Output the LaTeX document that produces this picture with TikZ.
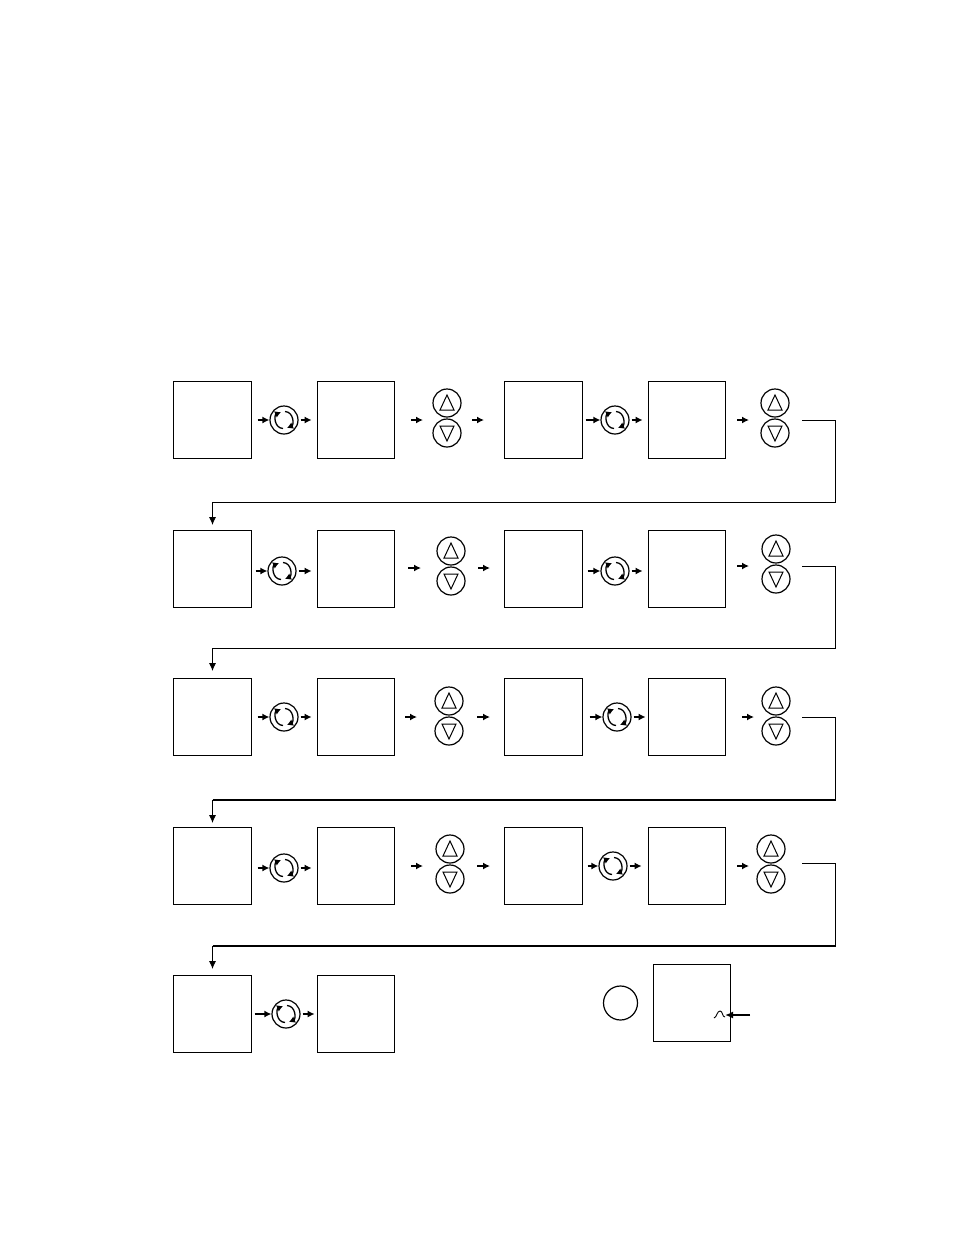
\documentclass[tikz,border=0pt]{standalone}
\usetikzlibrary{arrows.meta}
\tikzset{
  panel/.style={draw, line width=1pt, minimum size=77.5pt, inner sep=0pt},
  knob/.style={draw, circle, line width=1.2pt, minimum size=28pt, inner sep=0pt,
    path picture={
      \draw[line width=1.3pt, -{Latex[length=6pt,width=7pt]}] ([shift={(-1,8.5)}]path picture bounding box.center) .. controls ([shift={(-10,8)}]path picture bounding box.center) and ([shift={(-10,-5)}]path picture bounding box.center) .. ([shift={(-3,-8)}]path picture bounding box.center);
      \draw[line width=1.3pt, -{Latex[length=6pt,width=7pt]}] ([shift={(1,-8.5)}]path picture bounding box.center) .. controls ([shift={(10,-8)}]path picture bounding box.center) and ([shift={(10,5)}]path picture bounding box.center) .. ([shift={(3,8)}]path picture bounding box.center);
    }},
  upkey/.style={draw, circle, line width=1.2pt, minimum size=28pt, inner sep=0pt,
    path picture={
      \draw[line width=1pt] ([shift={(0,-8)}]path picture bounding box.center) -- ([shift={(7,7)}]path picture bounding box.center) -- ([shift={(-7,7)}]path picture bounding box.center) -- cycle;
    }},
  downkey/.style={draw, circle, line width=1.2pt, minimum size=28pt, inner sep=0pt,
    path picture={
      \draw[line width=1pt] ([shift={(0,8)}]path picture bounding box.center) -- ([shift={(7,-7)}]path picture bounding box.center) -- ([shift={(-7,-7)}]path picture bounding box.center) -- cycle;
    }},
  arr/.style={line width=1.4pt, -{Latex[length=7pt,width=7pt]}},
  wire/.style={line width=0.9pt, -{Latex[length=8pt,width=7pt]}},
  thickwire/.style={line width=1.7pt}
}
\begin{document}
\begin{tikzpicture}[x=1pt, y=-1pt]
\useasboundingbox (0,0) rectangle (954,1235);

\node[panel] (n11) at (212.3, 420) {};
\node[panel] (n12) at (355.9, 420) {};
\node[panel] (n13) at (543.3, 420) {};
\node[panel] (n14) at (686.9, 420) {};

\node[panel] (n21) at (212.3, 569) {};
\node[panel] (n22) at (355.9, 569) {};
\node[panel] (n23) at (543.3, 569) {};
\node[panel] (n24) at (686.9, 569) {};

\node[panel] (n31) at (212.3, 717) {};
\node[panel] (n32) at (355.9, 717) {};
\node[panel] (n33) at (543.3, 717) {};
\node[panel] (n34) at (686.9, 717) {};

\node[panel] (n41) at (212.3, 866) {};
\node[panel] (n42) at (355.9, 866) {};
\node[panel] (n43) at (543.3, 866) {};
\node[panel] (n44) at (686.9, 866) {};

\node[panel] (n51) at (212.3, 1014) {};
\node[panel] (n52) at (355.9, 1014) {};
\node[panel] (n53) at (692, 1003) {};

\node[knob] (k11) at (284, 420) {};
\node[knob] (k12) at (615, 420) {};
\node[knob] (k21) at (282, 571) {};
\node[knob] (k22) at (615, 571) {};
\node[knob] (k31) at (284, 717) {};
\node[knob] (k32) at (617, 717) {};
\node[knob] (k41) at (284, 868) {};
\node[knob] (k42) at (613, 866) {};
\node[knob] (k51) at (286, 1014) {};

\node[upkey] (u11) at (447, 403) {};
\node[downkey] (d11) at (447, 433) {};
\node[upkey] (u12) at (775, 403) {};
\node[downkey] (d12) at (775, 433) {};
\node[upkey] (u21) at (451, 551) {};
\node[downkey] (d21) at (451, 581) {};
\node[upkey] (u22) at (776, 549) {};
\node[downkey] (d22) at (776, 579) {};
\node[upkey] (u31) at (449, 701) {};
\node[downkey] (d31) at (449, 731) {};
\node[upkey] (u32) at (776, 701) {};
\node[downkey] (d32) at (776, 731) {};
\node[upkey] (u41) at (450, 849) {};
\node[downkey] (d41) at (450, 879) {};
\node[upkey] (u42) at (771, 849) {};
\node[downkey] (d42) at (771, 879) {};

\node[draw, circle, line width=1.2pt, minimum size=34pt, inner sep=0pt] (c1) at (620.5, 1003) {};

% free ends of the short arrows
\coordinate (a11) at (411, 420);
\coordinate (b11) at (423, 420);
\coordinate (a12) at (472, 420);
\coordinate (b12) at (484, 420);
\coordinate (a13) at (737, 420);
\coordinate (b13) at (749, 420);
\coordinate (a21) at (408, 568);
\coordinate (b21) at (421, 568);
\coordinate (a22) at (478, 568);
\coordinate (b22) at (490, 568);
\coordinate (a23) at (737, 566);
\coordinate (b23) at (749, 566);
\coordinate (a31) at (405, 717);
\coordinate (b31) at (417, 717);
\coordinate (a32) at (477, 717);
\coordinate (b32) at (490, 717);
\coordinate (a33) at (742, 717);
\coordinate (b33) at (754, 717);
\coordinate (a41) at (411, 866);
\coordinate (b41) at (423, 866);
\coordinate (a42) at (477, 866);
\coordinate (b42) at (490, 866);
\coordinate (a43) at (737, 866);
\coordinate (b43) at (749, 866);

\draw[arr, shorten <=6pt] (n11) -- (k11);
\draw[arr, shorten <=2pt, shorten >=5pt] (k11) -- (n12);
\draw[arr] (a11) -- (b11);
\draw[arr] (a12) -- (b12);
\draw[arr, shorten <=3pt] (n13) -- (k12);
\draw[arr, shorten <=2pt, shorten >=5pt] (k12) -- (n14);
\draw[arr] (a13) -- (b13);

\draw[arr, shorten <=4pt] (n21.east |- k21) -- (k21);
\draw[arr, shorten <=2pt, shorten >=5pt] (k21) -- (n22.west |- k21);
\draw[arr] (a21) -- (b21);
\draw[arr] (a22) -- (b22);
\draw[arr, shorten <=5pt] (n23.east |- k22) -- (k22);
\draw[arr, shorten <=2pt, shorten >=5pt] (k22) -- (n24.west |- k22);
\draw[arr] (a23) -- (b23);

\draw[arr, shorten <=6pt] (n31) -- (k31);
\draw[arr, shorten <=2pt, shorten >=5pt] (k31) -- (n32);
\draw[arr] (a31) -- (b31);
\draw[arr] (a32) -- (b32);
\draw[arr, shorten <=7pt] (n33) -- (k32);
\draw[arr, shorten <=2pt, shorten >=2pt] (k32) -- (n34);
\draw[arr] (a33) -- (b33);

\draw[arr, shorten <=6pt] (n41.east |- k41) -- (k41);
\draw[arr, shorten <=2pt, shorten >=5pt] (k41) -- (n42.west |- k41);
\draw[arr] (a41) -- (b41);
\draw[arr] (a42) -- (b42);
\draw[arr, shorten <=5pt] (n43) -- (k42);
\draw[arr, shorten <=2pt, shorten >=6pt] (k42) -- (n44);
\draw[arr] (a43) -- (b43);

\draw[arr, shorten <=3pt] (n51) -- (k51);
\draw[arr, shorten <=2pt, shorten >=2pt] (k51) -- (n52);

% return lines between the rows
\coordinate (r1) at (802, 420);
\coordinate (r2) at (802, 566);
\coordinate (r3) at (802, 717);
\coordinate (r4) at (802, 863);
\coordinate (t2) at (212.5, 525);
\coordinate (t3) at (212.5, 671);
\coordinate (t4) at (212.5, 823);
\coordinate (t5) at (212.5, 969);
\draw[wire] (r1) -| (835.5, 502.5) -| (t2);
\draw[wire] (r2) -| (835.5, 648.5) -| (t3);
\draw[wire] (r3) -| (835.5, 800) -| (t4);
\draw[wire] (r4) -| (835.5, 946) -| (t5);
\draw[thickwire] (t4 |- 835.5, 800) -- (835.5, 800);
\draw[thickwire] (t5 |- 835.5, 946) -- (835.5, 946);

% marker in the last panel
\coordinate (p1) at (750, 1015);
\coordinate (p2) at (725, 1015);
\draw[line width=1.7pt, -{Latex[length=8pt,width=7pt]}] (p1) -- (p2);
\draw[line width=0.9pt] (714, 1018) .. controls (717, 1017) and (717, 1011) .. (720, 1011) .. controls (723, 1011) and (722, 1017) .. (725, 1017);
\end{tikzpicture}
\end{document}
